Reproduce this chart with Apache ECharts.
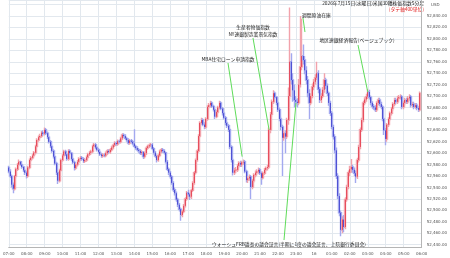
<!DOCTYPE html>
<html><head><meta charset="utf-8">
<script src="https://cdn.jsdelivr.net/npm/echarts@6/dist/echarts.min.js"></script>
<style>html,body{margin:0;padding:0;background:#fff}#c{width:450px;height:258px}</style>
</head><body><div id="c"></div>
<script>
const hourLabels = ['07:00','08:00','09:00','10:00','11:00','12:00','13:00','14:00','15:00','16:00','17:00','18:00','19:00','20:00','21:00','22:00','23:00','16','01:00','02:00','03:00','04:00','05:00','06:00'];
const firstOpen = 52575;
const closes = [
52568,52560,52545,52538,52560,52572,52580,52585,52580,52576,52570,52566,
52560,52575,52588,52592,52596,52601,52612,52623,52628,52630,52636,52634,
52641,52635,52628,52620,52612,52604,52594,52582,52566,52552,52570,52588,
52596,52603,52598,52590,52604,52600,52590,52584,52574,52580,52585,52590,
52592,52590,52586,52588,52593,52598,52601,52603,52612,52615,52610,52606,
52602,52598,52595,52597,52596,52600,52604,52602,52606,52610,52614,52618,
52616,52621,52620,52626,52632,52630,52626,52623,52618,52622,52620,52617,
52612,52609,52606,52604,52600,52602,52594,52600,52609,52612,52614,52615,
52608,52601,52595,52588,52596,52603,52606,52604,52601,52585,52572,52566,
52559,52548,52536,52530,52519,52510,52502,52492,52498,52508,52520,52531,
52528,52524,52535,52548,52566,52588,52604,52630,52653,52658,52650,52646,
52660,52681,52684,52688,52682,52676,52664,52672,52680,52688,52678,52670,
52662,52653,52648,52641,52611,52588,52566,52570,52571,52578,52583,52580,
52584,52585,52568,52553,52556,52559,52541,52552,52562,52566,52568,52571,
52565,52557,52565,52571,52574,52576,52641,52668,52690,52705,52698,52688,
52676,52660,52646,52627,52635,52629,52658,52700,52760,52728,52710,52693,
52690,52688,52720,52751,52770,52763,52745,52728,52705,52688,52700,52716,
52725,52732,52740,52712,52693,52700,52711,52728,52718,52705,52688,52670,
52646,52629,52605,52560,52525,52496,52466,52484,52471,52519,52541,52566,
52572,52576,52571,52565,52559,52588,52611,52641,52658,52688,52694,52699,
52707,52698,52688,52682,52680,52676,52688,52693,52686,52681,52660,52640,
52625,52650,52660,52670,52678,52686,52693,52690,52696,52698,52699,52681,
52688,52693,52690,52696,52699,52684,52686,52681,52684,52679,52676,52705];
const highs = [
52578,52572,52563,52549,52562,52575,52583,52589,52587,52582,52578,52573,
52569,52578,52591,52595,52599,52604,52615,52626,52631,52634,52639,52640,
52645,52644,52638,52631,52623,52615,52607,52597,52585,52569,52573,52591,
52599,52606,52606,52601,52607,52607,52602,52593,52587,52583,52588,52593,
52595,52595,52593,52591,52596,52601,52604,52606,52615,52618,52618,52612,
52609,52605,52601,52600,52600,52603,52607,52607,52609,52613,52617,52621,
52621,52624,52624,52629,52635,52635,52633,52629,52626,52625,52625,52623,
52642,52615,52612,52609,52607,52605,52604,52603,52612,52615,52617,52618,
52618,52611,52604,52598,52599,52606,52609,52609,52607,52603,52588,52575,
52569,52562,52551,52540,52533,52522,52513,52505,52501,52511,52523,52534,
52536,52531,52538,52551,52569,52591,52607,52633,52656,52662,52661,52654,
52663,52684,52688,52692,52691,52685,52679,52675,52683,52692,52691,52681,
52673,52665,52656,52651,52644,52614,52591,52574,52576,52581,52586,52587,
52587,52589,52588,52571,52560,52563,52562,52555,52565,52570,52572,52575,
52574,52568,52568,52574,52577,52580,52645,52672,52694,52710,52708,52700,
52691,52680,52664,52650,52640,52640,52662,52715,52855,52775,52740,52720,
52700,52696,52730,52840,52835,52790,52770,52752,52735,52712,52705,52722,
52730,52738,52760,52745,52716,52705,52716,52740,52732,52722,52708,52692,
52674,52650,52633,52610,52565,52530,52500,52490,52492,52523,52545,52570,
52578,52590,52580,52575,52570,52592,52615,52645,52662,52692,52698,52704,
52712,52711,52701,52691,52686,52684,52691,52697,52697,52690,52684,52663,
52644,52653,52663,52673,52681,52689,52697,52697,52700,52702,52703,52702,
52691,52697,52697,52700,52703,52702,52690,52690,52688,52688,52682,52708];
const lows = [
52565,52557,52540,52530,52535,52556,52569,52577,52578,52573,52567,52562,
52556,52557,52572,52585,52589,52593,52598,52609,52620,52625,52627,52630,
52631,52632,52625,52617,52609,52601,52591,52579,52562,52546,52549,52567,
52585,52593,52595,52587,52587,52597,52587,52581,52570,52571,52577,52582,
52587,52587,52583,52583,52585,52590,52595,52598,52600,52609,52607,52603,
52599,52595,52592,52592,52593,52593,52597,52599,52599,52603,52607,52611,
52613,52613,52617,52617,52623,52627,52623,52620,52615,52615,52617,52614,
52609,52606,52603,52601,52597,52597,52590,52591,52597,52606,52609,52611,
52605,52598,52592,52584,52585,52593,52600,52601,52598,52582,52569,52562,
52555,52545,52532,52526,52515,52506,52498,52482,52488,52495,52505,52517,
52524,52518,52520,52532,52545,52563,52585,52601,52627,52650,52647,52642,
52643,52657,52677,52680,52679,52673,52660,52661,52669,52677,52675,52666,
52659,52649,52644,52637,52607,52584,52561,52562,52565,52567,52574,52576,
52576,52580,52565,52549,52548,52552,52520,52537,52548,52558,52562,52564,
52562,52545,52554,52562,52568,52570,52573,52635,52664,52686,52694,52684,
52672,52656,52640,52560,52622,52600,52625,52650,52695,52720,52690,52680,
52682,52680,52684,52715,52745,52755,52738,52720,52698,52660,52684,52696,
52710,52720,52728,52705,52688,52688,52696,52706,52712,52700,52683,52665,
52642,52624,52600,52555,52520,52490,52455,52460,52462,52467,52515,52537,
52560,52566,52566,52560,52548,52555,52584,52607,52637,52654,52684,52690,
52695,52694,52684,52678,52676,52672,52672,52684,52682,52677,52656,52632,
52614,52620,52646,52656,52666,52674,52682,52686,52686,52692,52694,52677,
52677,52684,52686,52686,52692,52680,52680,52677,52678,52675,52672,52673];

const eventText = ['MBA住宅ローン申請指数','生産者物価指数\nNY連銀製造業景気指数','週間原油在庫','地区連銀経済報告(ベージュブック)','ウォーシュFRB議長の議会証言(半期に1度の議会証言、上院銀行委員会)'];
const eventIndex = [156, 174, 198, 240, 192];
const eventPrice = [52594, 52641, 52812, 52707, 52688];

// layout (pixel) of annotation labels
const noteLayout = [
  {x:228, y:59, align:'center', lx:228, ly:63},
  {x:253, y:31, align:'center', lx:253, ly:38},
  {x:302, y:15, align:'left', lx:303, ly:18},
  {x:357, y:40, align:'center', lx:358, ly:45},
  {x:212, y:244, align:'left', lx:284, ly:240}
];

const cats = [];
hourLabels.forEach((h, k) => {
  if (k < hourLabels.length - 1) { for (let m = 0; m < 12; m++) cats.push(m === 0 ? h : h + '|' + m); }
  else cats.push(h);
});
const opens = closes.map((c, i) => i === 0 ? firstOpen : closes[i - 1]);
const fullData = closes.map((c, i) => [opens[i], c, lows[i], highs[i]]);
const bodyData = closes.map((c, i) => [opens[i], c, Math.min(opens[i], c), Math.max(opens[i], c)]);

function fmt(v) {
  if (v > 52850) return '';
  const s = Math.round(v).toString();
  return s.replace(/\B(?=(\d{3})+(?!\d))/g, ',') + '.00';
}

const chart = echarts.init(document.getElementById('c'));
chart.setOption({
  animation: false,
  backgroundColor: '#ffffff',
  grid: {left: 1, right: 25, top: 0, bottom: 11},
  xAxis: {
    type: 'category', data: cats, boundaryGap: false,
    axisLine: {show: true, lineStyle: {color: '#b5b5b5', width: 1}},
    axisTick: {show: false},
    axisLabel: {interval: 11, fontSize: 4, color: '#555', margin: 5, fontFamily: 'DejaVu Sans',
      formatter: v => v.split('|')[0]},
    splitLine: {show: true, interval: 11, lineStyle: {color: '#e2e8ee', width: 1}}
  },
  yAxis: {
    type: 'value', position: 'right', min: 52436, max: 52868,
    minInterval: 20, maxInterval: 20, splitNumber: 22,
    axisLine: {show: true, lineStyle: {color: '#b5b5b5'}},
    axisTick: {show: false},
    axisLabel: {fontSize: 4, color: '#555', margin: 5, showMinLabel: false, showMaxLabel: false,
      fontFamily: 'DejaVu Sans', formatter: fmt},
    splitLine: {show: true, lineStyle: {color: '#e2e8ee', width: 1}}
  },
  series: [
    {type: 'candlestick', data: fullData, barWidth: 1.5,
      itemStyle: {color: '#f2a2ab', color0: '#a3a9ef', borderColor: '#f2a2ab', borderColor0: '#a3a9ef', borderWidth: 1.4}},
    {type: 'candlestick', data: bodyData, barWidth: 1.3,
      itemStyle: {color: '#e2283a', color0: '#2c2cc8', borderColor: '#e2283a', borderColor0: '#2c2cc8', borderWidth: 0.7}}
  ]
});

const graphics = [
  {type: 'text', right: 26, top: 1, style: {text: '2026年7月15日(水曜日)米国30種株価指数5分足', fontSize: 4.8, fontFamily: 'Noto Sans CJK JP', fill: '#222'}},
  {type: 'text', right: 26, top: 7, style: {text: '(タテ軸400単位)', fontSize: 4.8, fontFamily: 'Noto Sans CJK JP', fill: '#e01818'}},
  {type: 'text', left: 431, top: 3, style: {text: 'USD', fontSize: 4, fontFamily: 'DejaVu Sans', fill: '#555'}}
];
eventText.forEach((t, k) => {
  const L = noteLayout[k];
  const p = chart.convertToPixel({xAxisIndex: 0, yAxisIndex: 0}, [eventIndex[k], eventPrice[k]]);
  graphics.push({type: 'line', z: 50, shape: {x1: L.lx, y1: L.ly, x2: p[0], y2: p[1]}, style: {stroke: '#5fdc5a', lineWidth: 1}});
  graphics.push({type: 'text', z: 51, x: L.x, y: L.y, style: {text: t, fontSize: 4.8, lineHeight: 7, fontFamily: 'Noto Sans CJK JP', fill: '#222', align: L.align, verticalAlign: 'middle'}});
});
chart.setOption({graphic: graphics});
</script>
</body></html>
